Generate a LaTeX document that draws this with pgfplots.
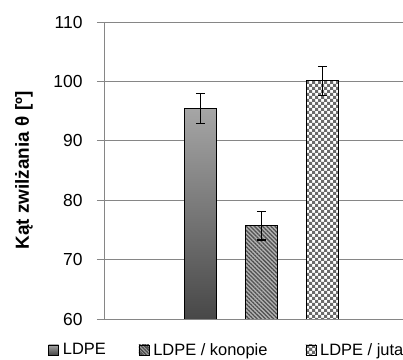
\documentclass[border=0pt]{standalone}
\usepackage{fontspec}
\setmainfont{Liberation Sans}
\usepackage{pgfplots}
\pgfplotsset{compat=1.18}
\usetikzlibrary{patterns,patterns.meta}
\pgfdeclarepatternformonly{checks}{\pgfpoint{-.1pt}{-.1pt}}{\pgfpoint{6.1bp}{6.1bp}}{\pgfpoint{6bp}{6bp}}{%
  \pgfpathrectangle{\pgfpointorigin}{\pgfpoint{3.05bp}{3.05bp}}%
  \pgfpathrectangle{\pgfpoint{3bp}{3bp}}{\pgfpoint{3.05bp}{3.05bp}}%
  \pgfusepath{fill}}
\definecolor{gridc}{HTML}{868686}
\definecolor{stripebg}{HTML}{B4B4B4}
\definecolor{stripefg}{HTML}{505050}
\definecolor{checkc}{HTML}{6A6A6A}
\begin{document}
\begin{tikzpicture}
\path[use as bounding box] (-104bp,-41bp) rectangle (299bp,319bp);
\begin{axis}[
  at={(0,0)}, anchor=south west,
  scale only axis, width=299bp, height=297bp,
  ybar, bar width=32.7bp,
  xmin=-0.58, xmax=4.32,
  ymin=60, ymax=110, ytick={60,70,...,110},
  xtick=\empty,
  axis x line=bottom, axis y line=left,
  axis line style={gridc, line width=0.9pt, -},
  ymajorgrids, grid style={gridc, line width=0.9pt},
  major tick length=7bp, tick align=outside,
  ytick style={gridc, line width=0.9pt},
  tick label style={font=\fontsize{17.5}{20}\selectfont},
  yticklabel style={xshift=-11bp},
  /pgf/number format/assume math mode=true,
  ylabel={Kąt zwilżania θ [º]},
  ylabel style={font=\bfseries\fontsize{19}{22}\selectfont, at={(axis description cs:-0.268,0.5)}, anchor=center},
  legend columns=3,
  legend style={draw=none, fill=none, inner sep=0pt, at={(-0.187,-0.104)}, anchor=west,
    font=\fontsize{16.5}{20}\selectfont,
    nodes={inner sep=0pt},
    /tikz/every odd column/.append style={column sep=4bp},
    /tikz/column 2/.append style={column sep=32.5bp},
    /tikz/column 4/.append style={column sep=38bp}},
]
\addplot+[bar shift=0pt, draw=black, line width=1pt, top color=black!35, bottom color=black!72,
  legend image code/.code={\draw[black,line width=0.6pt,top color=black!35,bottom color=black!72] (0bp,-5bp) rectangle (10bp,5bp);},
  error bars/.cd, y dir=both, y explicit,
  error bar style={black, line width=1.1pt},
  error mark options={rotate=90, black, mark size=4.5bp, line width=1.1pt},
  ]
  coordinates {(1,95.4) +- (0,2.5)};
\addlegendentry{LDPE}
\addplot+[bar shift=0pt, draw=black, line width=1pt, fill=stripebg,
  postaction={pattern={Lines[angle=-45,distance=2.9pt,line width=1.3pt]}, pattern color=stripefg},
  legend image code/.code={\draw[black,line width=0.6pt,fill=stripebg,postaction={pattern={Lines[angle=-45,distance=2.2pt,line width=1pt]}, pattern color=stripefg}] (0bp,-5bp) rectangle (10bp,5bp);},
  error bars/.cd, y dir=both, y explicit,
  error bar style={black, line width=1.1pt},
  error mark options={rotate=90, black, mark size=4.5bp, line width=1.1pt},
  ]
  coordinates {(2,75.7) +- (0,2.4)};
\addlegendentry{LDPE / konopie}
\addplot+[bar shift=0pt, draw=black, line width=1pt, fill=white,
  postaction={pattern=checks, pattern color=checkc},
  legend image code/.code={\draw[black,line width=0.6pt,fill=white,postaction={pattern=checks, pattern color=checkc}] (0bp,-5bp) rectangle (10bp,5bp);},
  error bars/.cd, y dir=both, y explicit,
  error bar style={black, line width=1.1pt},
  error mark options={rotate=90, black, mark size=4.5bp, line width=1.1pt},
  ]
  coordinates {(3,100.1) +- (0,2.4)};
\addlegendentry{LDPE / juta}
\end{axis}
\end{tikzpicture}
\end{document}
